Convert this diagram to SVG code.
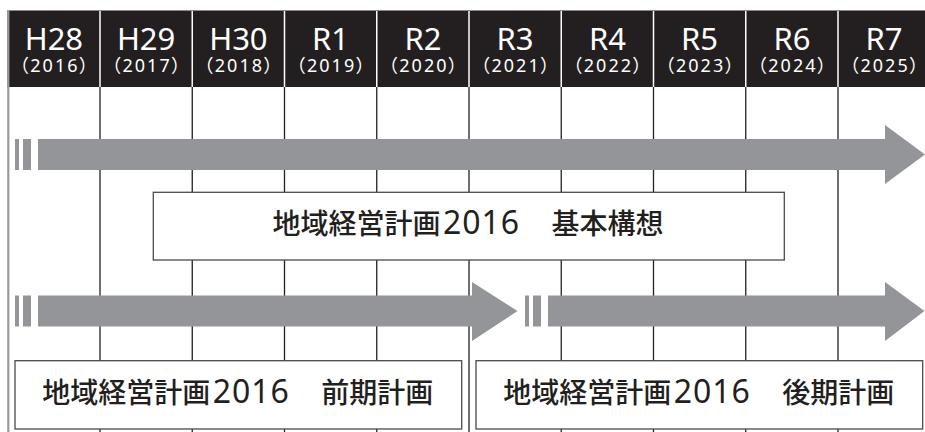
<svg xmlns="http://www.w3.org/2000/svg" width="925" height="432" viewBox="0 0 925 432">
<style>
.era{font-family:"Noto Sans","Noto Sans CJK JP",sans-serif;font-size:31px;fill:#fff;text-anchor:middle}
.yr{font-family:"Noto Sans","Noto Sans CJK JP",sans-serif;font-size:18px;fill:#fff;text-anchor:middle;font-feature-settings:"palt";letter-spacing:2px}
.vl{stroke:#231f20;stroke-width:1.3}
.hs{stroke:#fff;stroke-width:1.5}
.ar{fill:#939598}
.box{fill:#fff;stroke:#4a4a4a;stroke-width:1.3}
.lbl{font-family:"Noto Sans CJK JP","Noto Sans",sans-serif;font-size:28px;font-weight:500;fill:#231f20}
.num{font-family:"Noto Sans","Noto Sans CJK JP",sans-serif;font-size:32px;font-weight:400}
</style>
<g id="grid">
<rect x="7.5" y="10" width="918" height="77" fill="#231f20"/>
<line x1="7.5" y1="10.5" x2="925" y2="10.5" stroke="#8a8a8a" stroke-width="1"/>
<line x1="8.3" y1="10" x2="8.3" y2="432" stroke="#9a9a9a" stroke-width="2.2"/>
<g class="hs">
<line x1="100" y1="11" x2="100" y2="87"/><line x1="192.25" y1="11" x2="192.25" y2="87"/><line x1="284.5" y1="11" x2="284.5" y2="87"/><line x1="376.75" y1="11" x2="376.75" y2="87"/><line x1="469" y1="11" x2="469" y2="87"/><line x1="561.25" y1="11" x2="561.25" y2="87"/><line x1="653.5" y1="11" x2="653.5" y2="87"/><line x1="745.75" y1="11" x2="745.75" y2="87"/><line x1="838" y1="11" x2="838" y2="87"/>
</g>
<g class="vl">
<line x1="100" y1="87" x2="100" y2="432"/><line x1="192.25" y1="87" x2="192.25" y2="432"/><line x1="284.5" y1="87" x2="284.5" y2="432"/><line x1="376.75" y1="87" x2="376.75" y2="432"/><line x1="469" y1="87" x2="469" y2="432"/><line x1="561.25" y1="87" x2="561.25" y2="432"/><line x1="653.5" y1="87" x2="653.5" y2="432"/><line x1="745.75" y1="87" x2="745.75" y2="432"/><line x1="838" y1="87" x2="838" y2="432"/>
</g>
</g>
<g id="header">
<text class="era" x="53.9" y="50">H28</text><text class="yr" x="54.9" y="72">（2016）</text>
<text class="era" x="146.1" y="50">H29</text><text class="yr" x="147.1" y="72">（2017）</text>
<text class="era" x="238.4" y="50">H30</text><text class="yr" x="239.4" y="72">（2018）</text>
<text class="era" x="330.6" y="50">R1</text><text class="yr" x="331.6" y="72">（2019）</text>
<text class="era" x="422.9" y="50">R2</text><text class="yr" x="423.9" y="72">（2020）</text>
<text class="era" x="515.1" y="50">R3</text><text class="yr" x="516.1" y="72">（2021）</text>
<text class="era" x="607.4" y="50">R4</text><text class="yr" x="608.4" y="72">（2022）</text>
<text class="era" x="699.6" y="50">R5</text><text class="yr" x="700.6" y="72">（2023）</text>
<text class="era" x="791.9" y="50">R6</text><text class="yr" x="792.9" y="72">（2024）</text>
<text class="era" x="884.1" y="50">R7</text><text class="yr" x="885.1" y="72">（2025）</text>
</g>
<g id="connectors">
<g id="arrow-kihon" class="ar">
<rect x="15" y="139" width="4" height="31"/><rect x="23" y="139" width="8" height="31"/>
<polygon points="38,139 885,139 885,125 925,154.5 885,184 885,170 38,170"/>
</g>
<g id="arrow-zenki" class="ar">
<rect x="15" y="295.5" width="4" height="31"/><rect x="23" y="295.5" width="8" height="31"/>
<polygon points="38,295.5 472,295.5 472,282 517.5,311 472,341 472,326.5 38,326.5"/>
</g>
<g id="arrow-kouki" class="ar">
<rect x="525" y="295.5" width="4" height="31"/><rect x="533" y="295.5" width="8" height="31"/>
<polygon points="548,295.5 885,295.5 885,282 924.5,311 885,341 885,326.5 548,326.5"/>
</g>
</g>
<g id="node-kihon">
<rect class="box" x="153.3" y="192.3" width="631" height="67.7"/>
<text class="lbl" y="234"><tspan x="272.5">地域経営計画</tspan><tspan class="num" x="443" textLength="76" lengthAdjust="spacing">2016</tspan><tspan x="523.5">　基本構想</tspan></text>
</g>
<g id="node-zenki">
<rect class="box" x="15" y="360.7" width="446.7" height="68.3"/>
<text class="lbl" y="403"><tspan x="42.3">地域経営計画</tspan><tspan class="num" x="212.8" textLength="76" lengthAdjust="spacing">2016</tspan><tspan x="293.3">　前期計画</tspan></text>
</g>
<g id="node-kouki">
<rect class="box" x="476" y="360.7" width="446.7" height="68.3"/>
<text class="lbl" y="403"><tspan x="503.3">地域経営計画</tspan><tspan class="num" x="673.8" textLength="76" lengthAdjust="spacing">2016</tspan><tspan x="754.3">　後期計画</tspan></text>
</g>
</svg>
